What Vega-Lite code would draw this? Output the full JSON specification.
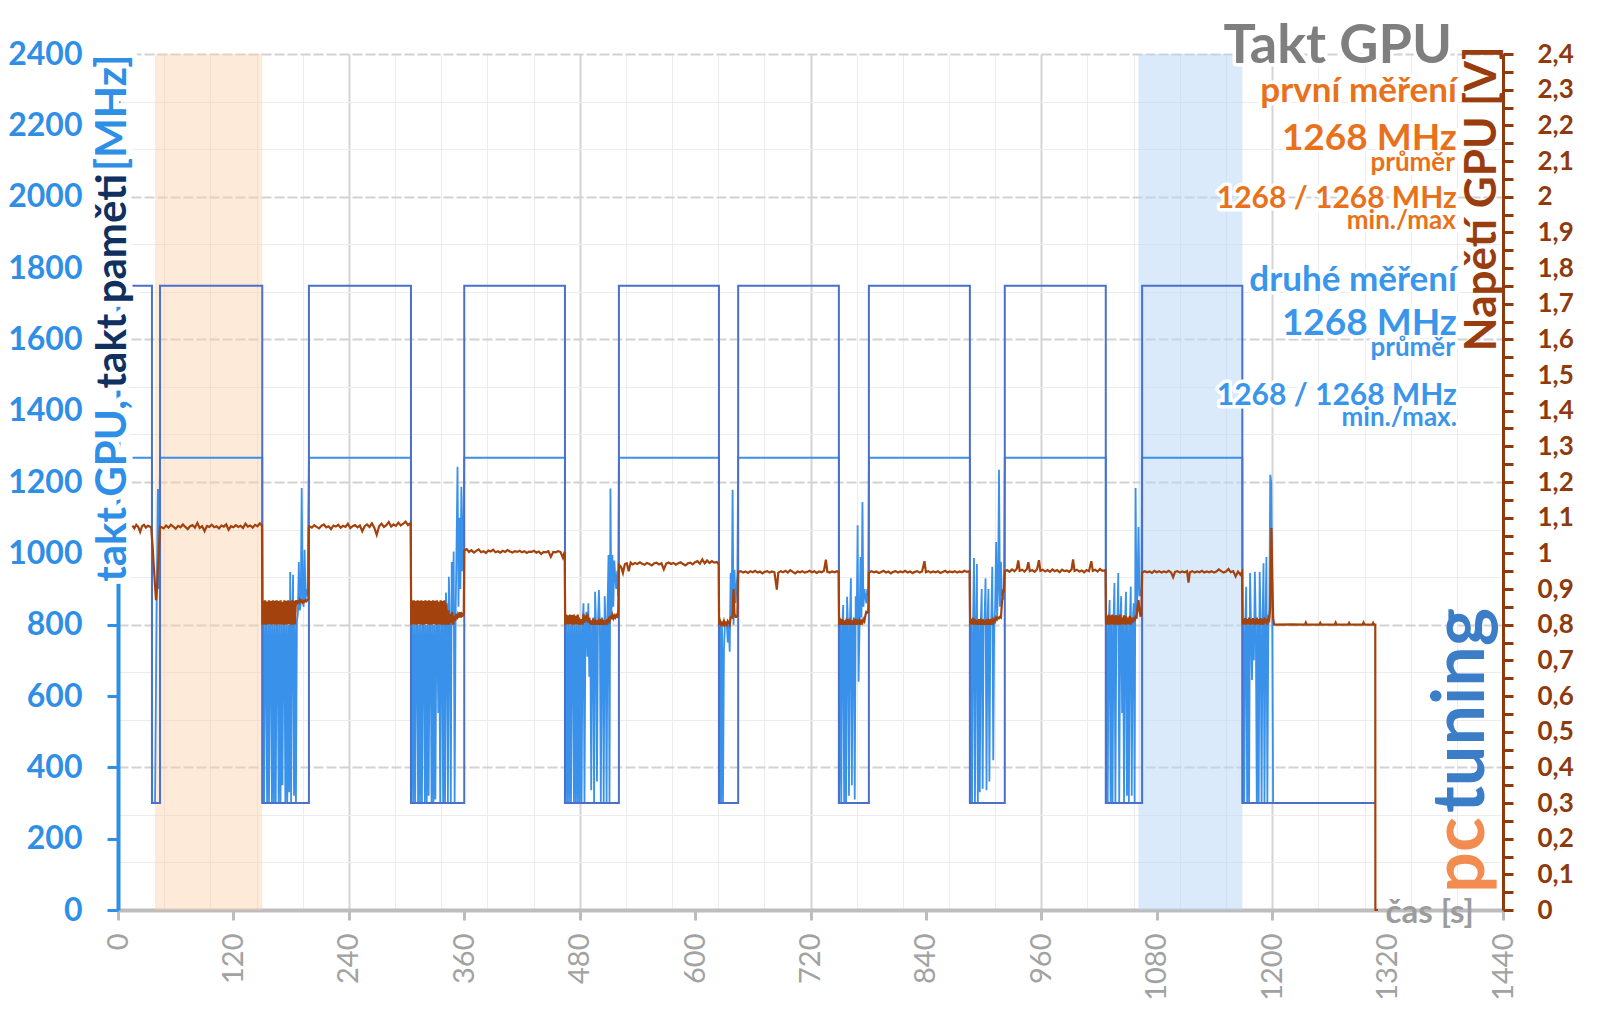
{
"$schema":"https://vega.github.io/schema/vega-lite/v6.json",
"width":1385,"height":856,
"autosize":"none",
"padding":{"left":118,"top":54,"right":97,"bottom":99},
"background":"white",
"config":{"view":{"stroke":null},"text":{"font":"Lato"}},
"datasets":{
"mem":[{"t":15,"v":1750},{"t":35.3,"v":1750},{"t":35.3,"v":300},{"t":43.7,"v":300},{"t":43.7,"v":1750},{"t":150,"v":1750},{"t":150,"v":300},{"t":198.5,"v":300},{"t":198.5,"v":1750},{"t":304.6,"v":1750},{"t":304.6,"v":300},{"t":360,"v":300},{"t":360,"v":1750},{"t":464.7,"v":1750},{"t":464.7,"v":300},{"t":520.8,"v":300},{"t":520.8,"v":1750},{"t":624.8,"v":1750},{"t":624.8,"v":300},{"t":644.8,"v":300},{"t":644.8,"v":1750},{"t":749.5,"v":1750},{"t":749.5,"v":300},{"t":780.7,"v":300},{"t":780.7,"v":1750},{"t":885.7,"v":1750},{"t":885.7,"v":300},{"t":922,"v":300},{"t":922,"v":1750},{"t":1027,"v":1750},{"t":1027,"v":300},{"t":1064.8,"v":300},{"t":1064.8,"v":1750},{"t":1169,"v":1750},{"t":1169,"v":300},{"t":1307,"v":300}],
"gpu":[{"t":15,"v":1268},{"t":35.3,"v":1268},{"t":35.6,"v":300},{"t":38.5,"v":300},{"t":40,"v":800},{"t":41.5,"v":1180},{"t":42.5,"v":900},{"t":43.7,"v":1268},{"t":150,"v":1268},
{"t":150.3,"v":300},{"t":151,"v":800},{"t":152,"v":300},{"t":153,"v":800},{"t":154,"v":800},{"t":155,"v":300},{"t":156,"v":800},{"t":157,"v":300},{"t":158,"v":800},{"t":159,"v":800},{"t":160,"v":300},{"t":161,"v":800},{"t":162,"v":300},{"t":163,"v":800},{"t":164,"v":300},{"t":165,"v":800},{"t":166,"v":800},{"t":167,"v":300},{"t":168,"v":800},{"t":169,"v":300},{"t":170,"v":800},{"t":171,"v":350},{"t":172,"v":800},{"t":173,"v":800},{"t":174,"v":300},{"t":175,"v":800},{"t":176,"v":300},{"t":177,"v":800},{"t":178,"v":330},{"t":179,"v":948},{"t":180,"v":300},{"t":181,"v":800},{"t":182,"v":940},{"t":183,"v":320},{"t":184,"v":800},{"t":185,"v":300},{"t":186,"v":810},{"t":187,"v":830},{"t":188,"v":976},{"t":189,"v":840},{"t":190,"v":860},{"t":191,"v":1183},{"t":192,"v":880},{"t":193,"v":850},{"t":194,"v":1010},{"t":195,"v":870},{"t":196,"v":900},{"t":197,"v":880},{"t":198.5,"v":1268},{"t":304.6,"v":1268},
{"t":304.9,"v":300},{"t":306,"v":800},{"t":307,"v":300},{"t":308,"v":800},{"t":309,"v":300},{"t":310,"v":800},{"t":311,"v":800},{"t":312,"v":300},{"t":313,"v":800},{"t":314,"v":300},{"t":315,"v":800},{"t":316,"v":300},{"t":317,"v":800},{"t":318,"v":800},{"t":319,"v":300},{"t":320,"v":800},{"t":321,"v":300},{"t":322,"v":800},{"t":323,"v":320},{"t":324,"v":800},{"t":325,"v":800},{"t":326,"v":300},{"t":327,"v":800},{"t":328,"v":300},{"t":329,"v":800},{"t":330,"v":310},{"t":331,"v":800},{"t":332,"v":800},{"t":333,"v":552},{"t":334,"v":800},{"t":335,"v":300},{"t":336,"v":800},{"t":337,"v":800},{"t":338,"v":300},{"t":339,"v":820},{"t":340,"v":300},{"t":341,"v":890},{"t":342,"v":800},{"t":343,"v":300},{"t":344,"v":934},{"t":345,"v":800},{"t":346,"v":300},{"t":347,"v":976},{"t":348,"v":800},{"t":349,"v":1005},{"t":350,"v":300},{"t":351,"v":820},{"t":352,"v":1020},{"t":353,"v":1243},{"t":354,"v":850},{"t":355,"v":1100},{"t":356,"v":900},{"t":357,"v":1187},{"t":358,"v":950},{"t":359,"v":1050},{"t":360,"v":1268},{"t":464.7,"v":1268},
{"t":465,"v":300},{"t":466,"v":800},{"t":467,"v":300},{"t":468,"v":800},{"t":469,"v":300},{"t":470,"v":800},{"t":471,"v":300},{"t":472,"v":800},{"t":473,"v":800},{"t":474,"v":300},{"t":475,"v":800},{"t":476,"v":300},{"t":477,"v":800},{"t":478,"v":300},{"t":479,"v":800},{"t":480,"v":300},{"t":481,"v":800},{"t":482,"v":300},{"t":483,"v":800},{"t":484,"v":860},{"t":485,"v":300},{"t":486,"v":800},{"t":487,"v":836},{"t":488,"v":710},{"t":489,"v":860},{"t":490,"v":654},{"t":491,"v":800},{"t":492,"v":336},{"t":493,"v":800},{"t":494,"v":820},{"t":495,"v":300},{"t":496,"v":892},{"t":497,"v":800},{"t":498,"v":360},{"t":499,"v":800},{"t":500,"v":897},{"t":501,"v":800},{"t":502,"v":300},{"t":503,"v":820},{"t":504,"v":800},{"t":505,"v":300},{"t":506,"v":880},{"t":507,"v":800},{"t":508,"v":300},{"t":509,"v":850},{"t":510,"v":995},{"t":511,"v":300},{"t":512,"v":1182},{"t":513,"v":820},{"t":514,"v":995},{"t":515,"v":850},{"t":516,"v":980},{"t":517,"v":934},{"t":518,"v":900},{"t":519,"v":950},{"t":520,"v":880},{"t":520.8,"v":1268},{"t":624.8,"v":1268},
{"t":625.1,"v":300},{"t":626,"v":800},{"t":627,"v":300},{"t":628,"v":800},{"t":629,"v":300},{"t":630,"v":729},{"t":631,"v":800},{"t":632,"v":800},{"t":633,"v":800},{"t":634,"v":750},{"t":635,"v":800},{"t":636,"v":724},{"t":637,"v":945},{"t":638,"v":820},{"t":639,"v":1178},{"t":640,"v":800},{"t":641,"v":953},{"t":642,"v":860},{"t":643,"v":900},{"t":644,"v":945},{"t":644.8,"v":1268},{"t":749.5,"v":1268},
{"t":749.8,"v":300},{"t":751,"v":800},{"t":752,"v":300},{"t":753,"v":800},{"t":754,"v":855},{"t":755,"v":300},{"t":756,"v":800},{"t":757,"v":300},{"t":758,"v":878},{"t":759,"v":800},{"t":760,"v":320},{"t":761,"v":800},{"t":762,"v":930},{"t":763,"v":350},{"t":764,"v":800},{"t":765,"v":820},{"t":766,"v":310},{"t":767,"v":880},{"t":768,"v":800},{"t":769,"v":1079},{"t":770,"v":640},{"t":771,"v":800},{"t":772,"v":990},{"t":773,"v":820},{"t":774,"v":1144},{"t":775,"v":850},{"t":776,"v":900},{"t":777,"v":880},{"t":778,"v":860},{"t":779,"v":900},{"t":780,"v":880},{"t":780.7,"v":1268},{"t":885.7,"v":1268},
{"t":886,"v":300},{"t":887,"v":800},{"t":888,"v":300},{"t":889,"v":800},{"t":890,"v":987},{"t":891,"v":300},{"t":892,"v":800},{"t":893,"v":970},{"t":894,"v":300},{"t":895,"v":800},{"t":896,"v":330},{"t":897,"v":800},{"t":898,"v":900},{"t":899,"v":340},{"t":900,"v":800},{"t":901,"v":820},{"t":902,"v":930},{"t":903,"v":336},{"t":904,"v":800},{"t":905,"v":900},{"t":906,"v":360},{"t":907,"v":800},{"t":908,"v":820},{"t":909,"v":962},{"t":910,"v":420},{"t":911,"v":800},{"t":912,"v":850},{"t":913,"v":1032},{"t":914,"v":820},{"t":915,"v":900},{"t":916,"v":1234},{"t":917,"v":850},{"t":918,"v":976},{"t":919,"v":880},{"t":920,"v":900},{"t":921,"v":870},{"t":922,"v":1268},{"t":1027,"v":1268},
{"t":1027.3,"v":300},{"t":1028,"v":800},{"t":1029,"v":300},{"t":1030,"v":800},{"t":1031,"v":869},{"t":1032,"v":300},{"t":1033,"v":800},{"t":1034,"v":300},{"t":1035,"v":800},{"t":1036,"v":917},{"t":1037,"v":300},{"t":1038,"v":800},{"t":1039,"v":800},{"t":1040,"v":945},{"t":1041,"v":300},{"t":1042,"v":800},{"t":1043,"v":880},{"t":1044,"v":552},{"t":1045,"v":800},{"t":1046,"v":300},{"t":1047,"v":800},{"t":1048,"v":892},{"t":1049,"v":320},{"t":1050,"v":800},{"t":1051,"v":300},{"t":1052,"v":800},{"t":1053,"v":906},{"t":1054,"v":320},{"t":1055,"v":800},{"t":1056,"v":860},{"t":1057,"v":300},{"t":1058,"v":1183},{"t":1059,"v":820},{"t":1060,"v":900},{"t":1061,"v":1074},{"t":1062,"v":880},{"t":1063,"v":900},{"t":1064,"v":880},{"t":1064.8,"v":1268},{"t":1169,"v":1268},
{"t":1169.3,"v":300},{"t":1170,"v":800},{"t":1171,"v":300},{"t":1172,"v":800},{"t":1173,"v":906},{"t":1174,"v":300},{"t":1175,"v":800},{"t":1176,"v":300},{"t":1177,"v":945},{"t":1178,"v":800},{"t":1179,"v":645},{"t":1180,"v":800},{"t":1181,"v":700},{"t":1182,"v":948},{"t":1183,"v":800},{"t":1184,"v":300},{"t":1185,"v":800},{"t":1186,"v":300},{"t":1187,"v":948},{"t":1188,"v":800},{"t":1189,"v":300},{"t":1190,"v":800},{"t":1191,"v":972},{"t":1192,"v":300},{"t":1193,"v":800},{"t":1194,"v":990},{"t":1195,"v":300},{"t":1196,"v":800},{"t":1197,"v":820},{"t":1198,"v":1220},{"t":1199,"v":1200},{"t":1200,"v":900},{"t":1201,"v":300},{"t":1307,"v":300}],
"volt":[{"t":15,"v":1.078},{"t":17,"v":1.07},{"t":19,"v":1.08},{"t":21,"v":1.074},{"t":23,"v":1.06},{"t":25,"v":1.076},{"t":27,"v":1.08},{"t":29,"v":1.072},{"t":31,"v":1.077},{"t":33,"v":1.075},{"t":34.5,"v":1.072},{"t":36,"v":1.02},{"t":37.5,"v":0.95},{"t":39.5,"v":0.869},{"t":40.5,"v":0.9},{"t":41.5,"v":0.96},{"t":42.5,"v":1.0},{"t":43.7,"v":1.075},
{"t":45,"v":1.074},{"t":47.5,"v":1.07},{"t":50,"v":1.078},{"t":52.5,"v":1.072},{"t":55,"v":1.08},{"t":57.5,"v":1.075},{"t":60,"v":1.069},{"t":62.5,"v":1.077},{"t":65,"v":1.073},{"t":67.5,"v":1.081},{"t":70,"v":1.074},{"t":72.5,"v":1.068},{"t":75,"v":1.076},{"t":77.5,"v":1.079},{"t":80,"v":1.072},{"t":82.5,"v":1.085},{"t":85,"v":1.071},{"t":87.5,"v":1.076},{"t":90,"v":1.062},{"t":92.5,"v":1.077},{"t":95,"v":1.074},{"t":97.5,"v":1.08},{"t":100,"v":1.073},{"t":102.5,"v":1.076},{"t":105,"v":1.07},{"t":107.5,"v":1.078},{"t":110,"v":1.075},{"t":112.5,"v":1.081},{"t":115,"v":1.066},{"t":117.5,"v":1.076},{"t":120,"v":1.073},{"t":122.5,"v":1.079},{"t":125,"v":1.074},{"t":127.5,"v":1.077},{"t":130,"v":1.071},{"t":132.5,"v":1.083},{"t":135,"v":1.075},{"t":137.5,"v":1.078},{"t":140,"v":1.072},{"t":142.5,"v":1.08},{"t":145,"v":1.076},{"t":147.5,"v":1.084},{"t":149.7,"v":1.078},
{"t":150.2,"v":0.8},{"t":151,"v":0.868},{"t":152,"v":0.8},{"t":153,"v":0.868},{"t":154,"v":0.8},{"t":155,"v":0.865},{"t":156,"v":0.8},{"t":157,"v":0.868},{"t":158,"v":0.802},{"t":159,"v":0.866},{"t":160,"v":0.8},{"t":161,"v":0.868},{"t":162,"v":0.8},{"t":163,"v":0.867},{"t":164,"v":0.8},{"t":165,"v":0.868},{"t":166,"v":0.801},{"t":167,"v":0.866},{"t":168,"v":0.8},{"t":169,"v":0.868},{"t":170,"v":0.8},{"t":171,"v":0.864},{"t":172,"v":0.8},{"t":173,"v":0.868},{"t":174,"v":0.8},{"t":175,"v":0.867},{"t":176,"v":0.8},{"t":177,"v":0.868},{"t":178,"v":0.802},{"t":179,"v":0.866},{"t":180,"v":0.8},{"t":181,"v":0.868},{"t":182,"v":0.8},{"t":183,"v":0.867},{"t":184,"v":0.8},{"t":185,"v":0.868},{"t":186,"v":0.86},{"t":187,"v":0.865},{"t":188,"v":0.862},{"t":189,"v":0.87},{"t":190,"v":0.864},{"t":191,"v":0.868},{"t":192,"v":0.862},{"t":193,"v":0.866},{"t":194,"v":0.864},{"t":195,"v":0.869},{"t":196,"v":0.866},{"t":197,"v":0.87},{"t":198,"v":0.872},{"t":198.5,"v":1.075},
{"t":199,"v":1.076},{"t":201.5,"v":1.072},{"t":204,"v":1.079},{"t":206.5,"v":1.074},{"t":209,"v":1.07},{"t":211.5,"v":1.077},{"t":214,"v":1.081},{"t":216.5,"v":1.073},{"t":219,"v":1.076},{"t":221.5,"v":1.068},{"t":224,"v":1.078},{"t":226.5,"v":1.075},{"t":229,"v":1.08},{"t":231.5,"v":1.072},{"t":234,"v":1.077},{"t":236.5,"v":1.074},{"t":239,"v":1.083},{"t":241.5,"v":1.071},{"t":244,"v":1.076},{"t":246.5,"v":1.079},{"t":249,"v":1.073},{"t":251.5,"v":1.078},{"t":254,"v":1.062},{"t":256.5,"v":1.076},{"t":259,"v":1.081},{"t":261.5,"v":1.074},{"t":264,"v":1.084},{"t":266.5,"v":1.072},{"t":269,"v":1.052},{"t":271.5,"v":1.076},{"t":274,"v":1.083},{"t":276.5,"v":1.074},{"t":279,"v":1.079},{"t":281.5,"v":1.088},{"t":284,"v":1.075},{"t":286.5,"v":1.081},{"t":289,"v":1.077},{"t":291.5,"v":1.086},{"t":294,"v":1.078},{"t":296.5,"v":1.083},{"t":299,"v":1.089},{"t":301.5,"v":1.079},{"t":304.2,"v":1.085},
{"t":304.9,"v":0.8},{"t":305.5,"v":0.868},{"t":306.5,"v":0.8},{"t":307.5,"v":0.868},{"t":308.5,"v":0.8},{"t":309.5,"v":0.866},{"t":310.5,"v":0.8},{"t":311.5,"v":0.868},{"t":312.5,"v":0.801},{"t":313.5,"v":0.867},{"t":314.5,"v":0.8},{"t":315.5,"v":0.868},{"t":316.5,"v":0.8},{"t":317.5,"v":0.866},{"t":318.5,"v":0.8},{"t":319.5,"v":0.868},{"t":320.5,"v":0.802},{"t":321.5,"v":0.867},{"t":322.5,"v":0.8},{"t":323.5,"v":0.868},{"t":324.5,"v":0.8},{"t":325.5,"v":0.866},{"t":326.5,"v":0.8},{"t":327.5,"v":0.868},{"t":328.5,"v":0.801},{"t":329.5,"v":0.867},{"t":330.5,"v":0.8},{"t":331.5,"v":0.868},{"t":332.5,"v":0.8},{"t":333.5,"v":0.865},{"t":334.5,"v":0.8},{"t":335.5,"v":0.868},{"t":336.5,"v":0.8},{"t":337.5,"v":0.866},{"t":338.5,"v":0.8},{"t":339.5,"v":0.868},{"t":340.5,"v":0.8},{"t":341.5,"v":0.86},{"t":342.5,"v":0.8},{"t":343.5,"v":0.84},{"t":344.5,"v":0.8},{"t":345.5,"v":0.83},{"t":346.5,"v":0.805},{"t":347.5,"v":0.835},{"t":348.5,"v":0.8},{"t":349.5,"v":0.825},{"t":350.5,"v":0.81},{"t":351.5,"v":0.83},{"t":352.5,"v":0.815},{"t":353.5,"v":0.828},{"t":354.5,"v":0.82},{"t":355.5,"v":0.835},{"t":356.5,"v":0.82},{"t":357.5,"v":0.83},{"t":358.5,"v":0.826},{"t":359.5,"v":0.83},
{"t":360,"v":1.008},{"t":362.5,"v":1.012},{"t":365,"v":1.004},{"t":367.5,"v":1.009},{"t":370,"v":1.002},{"t":372.5,"v":1.007},{"t":375,"v":1.011},{"t":377.5,"v":1.003},{"t":380,"v":1.006},{"t":382.5,"v":1.001},{"t":385,"v":1.008},{"t":387.5,"v":1.005},{"t":390,"v":1.01},{"t":392.5,"v":1.003},{"t":395,"v":1.006},{"t":397.5,"v":1.002},{"t":400,"v":1.007},{"t":402.5,"v":1.004},{"t":405,"v":1.009},{"t":407.5,"v":1.005},{"t":410,"v":1.002},{"t":412.5,"v":1.006},{"t":415,"v":1.004},{"t":417.5,"v":1.007},{"t":420,"v":1.003},{"t":422.5,"v":1.006},{"t":425,"v":1.001},{"t":427.5,"v":1.005},{"t":430,"v":1.004},{"t":432.5,"v":1.007},{"t":435,"v":1.002},{"t":437.5,"v":1.005},{"t":440,"v":0.998},{"t":442.5,"v":1.004},{"t":445,"v":1.003},{"t":447.5,"v":1.006},{"t":450,"v":0.99},{"t":452.5,"v":1.004},{"t":455,"v":1.003},{"t":457.5,"v":1.006},{"t":460,"v":1.004},{"t":462.5,"v":0.988},{"t":464.4,"v":1.004},
{"t":465,"v":0.8},{"t":466,"v":0.828},{"t":467,"v":0.8},{"t":468,"v":0.826},{"t":469,"v":0.8},{"t":470,"v":0.828},{"t":471,"v":0.801},{"t":472,"v":0.827},{"t":473,"v":0.8},{"t":474,"v":0.828},{"t":475,"v":0.8},{"t":476,"v":0.825},{"t":477,"v":0.8},{"t":478,"v":0.828},{"t":479,"v":0.8},{"t":480,"v":0.81},{"t":481,"v":0.8},{"t":482,"v":0.815},{"t":483,"v":0.8},{"t":484,"v":0.83},{"t":485,"v":0.805},{"t":486,"v":0.825},{"t":487,"v":0.81},{"t":488,"v":0.83},{"t":489,"v":0.805},{"t":490,"v":0.82},{"t":491,"v":0.8},{"t":492,"v":0.812},{"t":493,"v":0.8},{"t":494,"v":0.815},{"t":495,"v":0.8},{"t":496,"v":0.81},{"t":497,"v":0.8},{"t":498,"v":0.812},{"t":499,"v":0.8},{"t":500,"v":0.81},{"t":501,"v":0.8},{"t":502,"v":0.815},{"t":503,"v":0.8},{"t":504,"v":0.81},{"t":505,"v":0.8},{"t":506,"v":0.812},{"t":507,"v":0.8},{"t":508,"v":0.81},{"t":509,"v":0.805},{"t":510,"v":0.815},{"t":511,"v":0.81},{"t":512,"v":0.825},{"t":513,"v":0.815},{"t":514,"v":0.827},{"t":515,"v":0.818},{"t":516,"v":0.825},{"t":517,"v":0.82},{"t":518,"v":0.827},{"t":519,"v":0.822},{"t":520,"v":0.825},
{"t":520.8,"v":0.968},{"t":523,"v":0.962},{"t":525,"v":0.945},{"t":527,"v":0.97},{"t":529,"v":0.972},{"t":531,"v":0.95},{"t":533,"v":0.974},{"t":535,"v":0.969},{"t":537.5,"v":0.973},{"t":540,"v":0.97},{"t":542.5,"v":0.975},{"t":545,"v":0.971},{"t":547.5,"v":0.968},{"t":550,"v":0.973},{"t":552.5,"v":0.97},{"t":555,"v":0.966},{"t":557.5,"v":0.972},{"t":560,"v":0.974},{"t":562.5,"v":0.969},{"t":565,"v":0.972},{"t":567.5,"v":0.955},{"t":570,"v":0.971},{"t":572.5,"v":0.974},{"t":575,"v":0.97},{"t":577.5,"v":0.973},{"t":580,"v":0.968},{"t":582.5,"v":0.972},{"t":585,"v":0.975},{"t":587.5,"v":0.97},{"t":590,"v":0.966},{"t":592.5,"v":0.972},{"t":595,"v":0.974},{"t":597.5,"v":0.969},{"t":600,"v":0.975},{"t":602.5,"v":0.978},{"t":605,"v":0.971},{"t":607.5,"v":0.983},{"t":610,"v":0.972},{"t":612.5,"v":0.98},{"t":615,"v":0.973},{"t":617.5,"v":0.978},{"t":620,"v":0.974},{"t":622.5,"v":0.976},{"t":624.5,"v":0.97},
{"t":625,"v":0.8},{"t":626,"v":0.81},{"t":627,"v":0.8},{"t":628,"v":0.805},{"t":629,"v":0.8},{"t":630,"v":0.81},{"t":631,"v":0.8},{"t":632,"v":0.805},{"t":633,"v":0.8},{"t":634,"v":0.81},{"t":635,"v":0.805},{"t":636,"v":0.8},{"t":637,"v":0.82},{"t":638,"v":0.822},{"t":639,"v":0.82},{"t":640,"v":0.9},{"t":641,"v":0.83},{"t":642,"v":0.822},{"t":643,"v":0.822},{"t":644,"v":0.825},
{"t":644.8,"v":0.948},{"t":647.5,"v":0.95},{"t":650,"v":0.946},{"t":652.5,"v":0.949},{"t":655,"v":0.945},{"t":657.5,"v":0.95},{"t":660,"v":0.947},{"t":662.5,"v":0.951},{"t":665,"v":0.946},{"t":667.5,"v":0.949},{"t":670,"v":0.944},{"t":672.5,"v":0.948},{"t":675,"v":0.95},{"t":677.5,"v":0.946},{"t":680,"v":0.949},{"t":682.5,"v":0.947},{"t":685,"v":0.898},{"t":686.5,"v":0.946},{"t":689,"v":0.95},{"t":691.5,"v":0.947},{"t":694,"v":0.951},{"t":696.5,"v":0.946},{"t":699,"v":0.953},{"t":701.5,"v":0.948},{"t":704,"v":0.944},{"t":706.5,"v":0.949},{"t":709,"v":0.947},{"t":711.5,"v":0.95},{"t":714,"v":0.946},{"t":716.5,"v":0.948},{"t":719,"v":0.951},{"t":721.5,"v":0.947},{"t":724,"v":0.95},{"t":726.5,"v":0.945},{"t":729,"v":0.949},{"t":731.5,"v":0.947},{"t":734,"v":0.951},{"t":736,"v":0.982},{"t":737.5,"v":0.948},{"t":740,"v":0.946},{"t":742.5,"v":0.949},{"t":745,"v":0.947},{"t":747.5,"v":0.95},{"t":749.2,"v":0.948},
{"t":749.8,"v":0.8},{"t":751,"v":0.81},{"t":752,"v":0.8},{"t":753,"v":0.815},{"t":754,"v":0.8},{"t":755,"v":0.812},{"t":756,"v":0.8},{"t":757,"v":0.81},{"t":758,"v":0.8},{"t":759,"v":0.815},{"t":760,"v":0.8},{"t":761,"v":0.81},{"t":762,"v":0.8},{"t":763,"v":0.812},{"t":764,"v":0.8},{"t":765,"v":0.81},{"t":766,"v":0.8},{"t":767,"v":0.815},{"t":768,"v":0.8},{"t":769,"v":0.81},{"t":770,"v":0.805},{"t":771,"v":0.812},{"t":772,"v":0.8},{"t":773,"v":0.81},{"t":774,"v":0.805},{"t":775,"v":0.815},{"t":776,"v":0.81},{"t":777,"v":0.825},{"t":778,"v":0.836},{"t":779,"v":0.834},{"t":780,"v":0.836},
{"t":780.7,"v":0.946},{"t":783.5,"v":0.95},{"t":786,"v":0.947},{"t":788.5,"v":0.949},{"t":791,"v":0.945},{"t":793.5,"v":0.948},{"t":796,"v":0.951},{"t":798.5,"v":0.946},{"t":801,"v":0.949},{"t":803.5,"v":0.944},{"t":806,"v":0.948},{"t":808.5,"v":0.95},{"t":811,"v":0.946},{"t":813.5,"v":0.949},{"t":816,"v":0.947},{"t":818.5,"v":0.951},{"t":821,"v":0.946},{"t":823.5,"v":0.949},{"t":826,"v":0.945},{"t":828.5,"v":0.948},{"t":831,"v":0.95},{"t":833.5,"v":0.946},{"t":836,"v":0.949},{"t":838.5,"v":0.978},{"t":840,"v":0.947},{"t":842.5,"v":0.95},{"t":845,"v":0.946},{"t":847.5,"v":0.949},{"t":850,"v":0.947},{"t":852.5,"v":0.95},{"t":855,"v":0.945},{"t":857.5,"v":0.948},{"t":860,"v":0.951},{"t":862.5,"v":0.946},{"t":865,"v":0.949},{"t":867.5,"v":0.947},{"t":870,"v":0.95},{"t":872.5,"v":0.946},{"t":875,"v":0.949},{"t":877.5,"v":0.947},{"t":880,"v":0.951},{"t":882.5,"v":0.948},{"t":885.4,"v":0.95},
{"t":886,"v":0.8},{"t":887,"v":0.815},{"t":888,"v":0.8},{"t":889,"v":0.82},{"t":890,"v":0.8},{"t":891,"v":0.815},{"t":892,"v":0.8},{"t":893,"v":0.812},{"t":894,"v":0.8},{"t":895,"v":0.815},{"t":896,"v":0.8},{"t":897,"v":0.81},{"t":898,"v":0.8},{"t":899,"v":0.815},{"t":900,"v":0.8},{"t":901,"v":0.812},{"t":902,"v":0.8},{"t":903,"v":0.815},{"t":904,"v":0.8},{"t":905,"v":0.81},{"t":906,"v":0.8},{"t":907,"v":0.815},{"t":908,"v":0.8},{"t":909,"v":0.812},{"t":910,"v":0.805},{"t":911,"v":0.815},{"t":912,"v":0.81},{"t":913,"v":0.82},{"t":914,"v":0.815},{"t":915,"v":0.82},{"t":916,"v":0.818},{"t":917,"v":0.822},{"t":918,"v":0.82},{"t":919,"v":0.86},{"t":920,"v":0.897},{"t":921,"v":0.89},
{"t":922,"v":0.95},{"t":924.5,"v":0.953},{"t":927,"v":0.948},{"t":929.5,"v":0.955},{"t":932,"v":0.95},{"t":934.5,"v":0.957},{"t":936,"v":0.98},{"t":937.5,"v":0.951},{"t":940,"v":0.954},{"t":942.5,"v":0.949},{"t":945,"v":0.956},{"t":946.5,"v":0.975},{"t":948,"v":0.95},{"t":950.5,"v":0.953},{"t":953,"v":0.948},{"t":955.5,"v":0.955},{"t":957.5,"v":0.981},{"t":959,"v":0.951},{"t":961.5,"v":0.954},{"t":964,"v":0.949},{"t":966.5,"v":0.953},{"t":969,"v":0.948},{"t":971.5,"v":0.955},{"t":974,"v":0.95},{"t":976.5,"v":0.953},{"t":979,"v":0.947},{"t":981.5,"v":0.954},{"t":984,"v":0.95},{"t":986.5,"v":0.952},{"t":989,"v":0.948},{"t":991.5,"v":0.955},{"t":993,"v":0.983},{"t":994.5,"v":0.951},{"t":997,"v":0.954},{"t":999.5,"v":0.949},{"t":1002,"v":0.952},{"t":1004.5,"v":0.947},{"t":1007,"v":0.953},{"t":1009.5,"v":0.95},{"t":1012,"v":0.978},{"t":1013.5,"v":0.951},{"t":1016,"v":0.954},{"t":1018.5,"v":0.949},{"t":1021,"v":0.956},{"t":1023.5,"v":0.951},{"t":1026.7,"v":0.953},
{"t":1027.3,"v":0.8},{"t":1028,"v":0.825},{"t":1029,"v":0.8},{"t":1030,"v":0.828},{"t":1031,"v":0.8},{"t":1032,"v":0.826},{"t":1033,"v":0.8},{"t":1034,"v":0.828},{"t":1035,"v":0.8},{"t":1036,"v":0.825},{"t":1037,"v":0.8},{"t":1038,"v":0.827},{"t":1039,"v":0.8},{"t":1040,"v":0.825},{"t":1041,"v":0.8},{"t":1042,"v":0.828},{"t":1043,"v":0.8},{"t":1044,"v":0.82},{"t":1045,"v":0.8},{"t":1046,"v":0.826},{"t":1047,"v":0.8},{"t":1048,"v":0.825},{"t":1049,"v":0.8},{"t":1050,"v":0.82},{"t":1051,"v":0.8},{"t":1052,"v":0.825},{"t":1053,"v":0.8},{"t":1054,"v":0.82},{"t":1055,"v":0.805},{"t":1056,"v":0.82},{"t":1057,"v":0.81},{"t":1058,"v":0.822},{"t":1059,"v":0.82},{"t":1060,"v":0.85},{"t":1061,"v":0.869},{"t":1062,"v":0.84},{"t":1063,"v":0.825},{"t":1064,"v":0.826},
{"t":1064.8,"v":0.946},{"t":1067.5,"v":0.95},{"t":1070,"v":0.947},{"t":1072.5,"v":0.949},{"t":1075,"v":0.945},{"t":1077.5,"v":0.951},{"t":1080,"v":0.947},{"t":1082.5,"v":0.95},{"t":1085,"v":0.946},{"t":1087.5,"v":0.949},{"t":1090,"v":0.947},{"t":1092.5,"v":0.951},{"t":1095,"v":0.946},{"t":1097,"v":0.933},{"t":1099,"v":0.948},{"t":1101.5,"v":0.95},{"t":1104,"v":0.946},{"t":1106.5,"v":0.949},{"t":1109,"v":0.947},{"t":1111.5,"v":0.95},{"t":1113,"v":0.918},{"t":1114.5,"v":0.947},{"t":1117,"v":0.95},{"t":1119.5,"v":0.946},{"t":1122,"v":0.949},{"t":1124.5,"v":0.947},{"t":1127,"v":0.951},{"t":1129.5,"v":0.946},{"t":1132,"v":0.949},{"t":1134.5,"v":0.947},{"t":1137,"v":0.95},{"t":1139.5,"v":0.946},{"t":1142,"v":0.949},{"t":1144.5,"v":0.955},{"t":1147,"v":0.95},{"t":1149.5,"v":0.946},{"t":1152,"v":0.949},{"t":1154.5,"v":0.956},{"t":1157,"v":0.947},{"t":1159.5,"v":0.95},{"t":1162,"v":0.935},{"t":1164.5,"v":0.949},{"t":1167,"v":0.94},{"t":1168.7,"v":0.948},
{"t":1169.3,"v":0.8},{"t":1170,"v":0.815},{"t":1171,"v":0.8},{"t":1172,"v":0.818},{"t":1173,"v":0.8},{"t":1174,"v":0.815},{"t":1175,"v":0.8},{"t":1176,"v":0.82},{"t":1177,"v":0.8},{"t":1178,"v":0.815},{"t":1179,"v":0.8},{"t":1180,"v":0.818},{"t":1181,"v":0.8},{"t":1182,"v":0.815},{"t":1183,"v":0.8},{"t":1184,"v":0.82},{"t":1185,"v":0.8},{"t":1186,"v":0.815},{"t":1187,"v":0.8},{"t":1188,"v":0.818},{"t":1189,"v":0.8},{"t":1190,"v":0.815},{"t":1191,"v":0.8},{"t":1192,"v":0.82},{"t":1193,"v":0.805},{"t":1194,"v":0.815},{"t":1195,"v":0.8},{"t":1196,"v":0.82},{"t":1197,"v":0.815},{"t":1198,"v":0.85},{"t":1199.2,"v":1.071},{"t":1200,"v":0.95},{"t":1201,"v":0.82},{"t":1202,"v":0.8},{"t":1220,"v":0.801},{"t":1234,"v":0.8},{"t":1235,"v":0.806},{"t":1236,"v":0.8},{"t":1249,"v":0.8},{"t":1250,"v":0.805},{"t":1251,"v":0.8},{"t":1265,"v":0.8},{"t":1266,"v":0.806},{"t":1267,"v":0.8},{"t":1279,"v":0.8},{"t":1280,"v":0.805},{"t":1281,"v":0.8},{"t":1294,"v":0.8},{"t":1295,"v":0.806},{"t":1296,"v":0.8},{"t":1304,"v":0.8},{"t":1305,"v":0.805},{"t":1306,"v":0.8},{"t":1307.2,"v":0.8},{"t":1307.3,"v":0},{"t":1310,"v":0}],
"ann":[{"label":"Takt GPU","grp":"title","kind":"title","t":1387,"v":2375},{"label":"první měření","grp":"first","kind":"head","t":1392,"v":2265},{"label":"1268 MHz","grp":"first","kind":"big","t":1392,"v":2131},{"label":"průměr","grp":"first","kind":"small","t":1390,"v":2072},{"label":"1268 / 1268 MHz","grp":"first","kind":"mid","t":1392,"v":1968},{"label":"min./max","grp":"first","kind":"small","t":1391,"v":1910},{"label":"druhé měření","grp":"second","kind":"head","t":1392,"v":1735},{"label":"1268 MHz","grp":"second","kind":"big","t":1392,"v":1612},{"label":"průměr","grp":"second","kind":"small","t":1390,"v":1552},{"label":"1268 / 1268 MHz","grp":"second","kind":"mid","t":1392,"v":1416},{"label":"min./max.","grp":"second","kind":"small","t":1392,"v":1358}],
"rot":[{"label":"takt GPU,","grp":"axisBlue","t":-5,"v":920},{"label":"takt paměti","grp":"axisNavy","t":-5,"v":1462},{"label":"[MHz]","grp":"axisBlue","t":-5,"v":2072}],
"logo":[{"label":"pc","grp":"logoOrange","t":1397,"v":48},{"label":"tuning","grp":"logoBlue","t":1397,"v":272}]
},
"layer":[
{"layer":[
 {"data":{"values":[{"t0":38.5,"t1":150}]},
  "mark":{"type":"rect","color":"#fbd0a8","opacity":0.45},
  "encoding":{
   "x":{"field":"t0","type":"quantitative","scale":{"domain":[0,1440],"nice":false,"zero":false},
     "axis":{"orient":"top","values":[0,12,24,36,48,60,72,84,96,108,120,132,144,156,168,180,192,204,216,228,240,252,264,276,288,300,312,324,336,348,360,372,384,396,408,420,432,444,456,468,480,492,504,516,528,540,552,564,576,588,600,612,624,636,648,660,672,684,696,708,720,732,744,756,768,780,792,804,816,828,840,852,864,876,888,900,912,924,936,948,960,972,984,996,1008,1020,1032,1044,1056,1068,1080,1092,1104,1116,1128,1140,1152,1164,1176,1188,1200,1212,1224,1236,1248,1260,1272,1284,1296,1308,1320,1332,1344,1356,1368,1380,1392,1404,1416,1428,1440],
      "labels":false,"ticks":false,"domain":false,"title":null,"grid":true,
      "gridColor":{"condition":{"test":"abs(datum.value/120 - round(datum.value/120)) < 0.01","value":"#d4d4d4"},"value":"#ececec"},
      "gridWidth":{"condition":{"test":"abs(datum.value/120 - round(datum.value/120)) < 0.01","value":2},"value":1}}},
   "x2":{"field":"t1"},
   "y":{"datum":0,"type":"quantitative","scale":{"domain":[0,72],"nice":false},
     "axis":{"orient":"left","values":[0,1,2,3,4,5,6,7,8,9,10,11,12,13,14,15,16,17,18,19,20,21,22,23,24,25,26,27,28,29,30,31,32,33,34,35,36,37,38,39,40,41,42,43,44,45,46,47,48,49,50,51,52,53,54,55,56,57,58,59,60,61,62,63,64,65,66,67,68,69,70,71,72],
      "labels":false,"ticks":false,"domain":false,"title":null,"grid":true,
      "gridColor":{"condition":{"test":"datum.value % 6 === 0","value":"#d2d2d2"},"value":"#ececec"},
      "gridWidth":{"condition":{"test":"datum.value % 6 === 0","value":2},"value":1},
      "gridDash":{"condition":{"test":"datum.value % 6 === 0","value":[10,3]},"value":[]}}},
   "y2":{"datum":72}}},
 {"data":{"values":[{"t0":1061,"t1":1169}]},
  "mark":{"type":"rect","color":"#b5d5f6","opacity":0.5},
  "encoding":{
   "x":{"field":"t0","type":"quantitative","scale":{"domain":[0,1440],"nice":false,"zero":false}},
   "x2":{"field":"t1"},
   "y":{"datum":0,"type":"quantitative","scale":{"domain":[0,72],"nice":false}},
   "y2":{"datum":72}}}
]},
{"layer":[
 {"data":{"name":"gpu"},
  "mark":{"type":"line","color":"#3a91ea","strokeWidth":1.8},
  "encoding":{
   "x":{"field":"t","type":"quantitative","scale":{"domain":[0,1440],"nice":false,"zero":false},
     "axis":{"orient":"bottom","values":[0,120,240,360,480,600,720,840,960,1080,1200,1320,1440],"format":"d",
      "labelAngle":270,"labelFont":"Lato","labelFontSize":29,"labelColor":"#a2a2a2","labelPadding":13,"labelOverlap":false,"labelFlush":false,
      "tickSize":10,"tickWidth":3,"tickColor":"#bcbcbc","grid":false,
      "domainColor":"#bdbdbd","domainWidth":4,
      "title":"čas [s]","titleFont":"Lato","titleFontSize":33,"titleFontWeight":"bold","titleColor":"#9c9c9c",
      "titleX":1267,"titleY":12,"titleAlign":"left","titleBaseline":"alphabetic","titleAngle":0}},
   "y":{"field":"v","type":"quantitative","scale":{"domain":[0,2400],"nice":false},
     "axis":{"orient":"left","title":null,"values":[0,50,100,150,200,250,300,350,400,450,500,550,600,650,700,750,800,850,900,950,1000,1050,1100,1150,1200,1250,1300,1350,1400,1450,1500,1550,1600,1650,1700,1750,1800,1850,1900,1950,2000,2050,2100,2150,2200,2250,2300,2350,2400],
      "format":"d","labelExpr":"datum.value % 200 === 0 ? datum.label : ''",
      "labelFont":"Lato","labelFontSize":32,"labelFontWeight":"bold","labelColor":"#2f8ee6","labelPadding":25,"labelOverlap":false,"labelFlush":false,
      "tickSize":11,"tickWidth":3,"tickColor":"#2f8ee6","domainColor":"#2f8ee6","domainWidth":4,"grid":false,
      "encode":{"ticks":{"update":{"x":{"signal":"datum.value % 200 === 0 ? 12 : 0"}}}}}},
   "order":{"value":null}}},
 {"data":{"name":"mem"},
  "mark":{"type":"line","color":"#4a70c9","strokeWidth":2},
  "encoding":{
   "x":{"field":"t","type":"quantitative","scale":{"domain":[0,1440],"nice":false,"zero":false}},
   "y":{"field":"v","type":"quantitative","scale":{"domain":[0,2400],"nice":false}},
   "order":{"value":null}}},
 {"data":{"name":"ann"},
  "mark":{"type":"text","align":"right","baseline":"alphabetic","font":"Lato","fontWeight":"bold","fill":"white","stroke":"white","strokeWidth":7,"strokeJoin":"round"},
  "encoding":{
   "x":{"field":"t","type":"quantitative","scale":{"domain":[0,1440],"nice":false,"zero":false}},
   "y":{"field":"v","type":"quantitative","scale":{"domain":[0,2400],"nice":false}},
   "text":{"field":"label"},
   "size":{"condition":[{"test":"datum.kind === 'title'","value":54},{"test":"datum.kind === 'head'","value":35},{"test":"datum.kind === 'big'","value":37},{"test":"datum.kind === 'small'","value":26},{"test":"datum.kind === 'mid'","value":30}],"value":30}}},
 {"data":{"name":"ann"},
  "mark":{"type":"text","align":"right","baseline":"alphabetic","font":"Lato","fontWeight":"bold"},
  "encoding":{
   "x":{"field":"t","type":"quantitative","scale":{"domain":[0,1440],"nice":false,"zero":false}},
   "y":{"field":"v","type":"quantitative","scale":{"domain":[0,2400],"nice":false}},
   "text":{"field":"label"},
   "color":{"field":"grp","type":"nominal","scale":{"domain":["title","first","second","axisBlue","axisNavy","logoOrange","logoBlue"],"range":["#7f7f7f","#e8711c","#3a96ea","#2f8ee6","#10305f","#f28c50","#3c7dc7"]},"legend":null},
   "size":{"condition":[{"test":"datum.kind === 'title'","value":54},{"test":"datum.kind === 'head'","value":35},{"test":"datum.kind === 'big'","value":37},{"test":"datum.kind === 'small'","value":26},{"test":"datum.kind === 'mid'","value":30}],"value":30}}},
 {"data":{"name":"rot"},
  "mark":{"type":"text","angle":270,"align":"left","baseline":"middle","font":"Lato","fontWeight":"bold","fontSize":42,"fill":"white","stroke":"white","strokeWidth":12,"strokeJoin":"round"},
  "encoding":{
   "x":{"field":"t","type":"quantitative","scale":{"domain":[0,1440],"nice":false,"zero":false}},
   "y":{"field":"v","type":"quantitative","scale":{"domain":[0,2400],"nice":false}},
   "text":{"field":"label"}}},
 {"data":{"name":"rot"},
  "mark":{"type":"text","angle":270,"align":"left","baseline":"middle","font":"Lato","fontWeight":"bold","fontSize":42},
  "encoding":{
   "x":{"field":"t","type":"quantitative","scale":{"domain":[0,1440],"nice":false,"zero":false}},
   "y":{"field":"v","type":"quantitative","scale":{"domain":[0,2400],"nice":false}},
   "text":{"field":"label"},
   "color":{"field":"grp","type":"nominal","scale":{"domain":["title","first","second","axisBlue","axisNavy","logoOrange","logoBlue"],"range":["#7f7f7f","#e8711c","#3a96ea","#2f8ee6","#10305f","#f28c50","#3c7dc7"]},"legend":null}}},
 {"data":{"name":"logo"},
  "mark":{"type":"text","angle":270,"align":"left","baseline":"middle","font":"Lato","fontWeight":"bold","fontSize":72},
  "encoding":{
   "x":{"field":"t","type":"quantitative","scale":{"domain":[0,1440],"nice":false,"zero":false}},
   "y":{"field":"v","type":"quantitative","scale":{"domain":[0,2400],"nice":false}},
   "text":{"field":"label"},
   "color":{"field":"grp","type":"nominal","scale":{"domain":["title","first","second","axisBlue","axisNavy","logoOrange","logoBlue"],"range":["#7f7f7f","#e8711c","#3a96ea","#2f8ee6","#10305f","#f28c50","#3c7dc7"]},"legend":null}}}
]},
{"layer":[
 {"data":{"name":"volt"},
  "mark":{"type":"line","color":"#a4420e","strokeWidth":2.2},
  "encoding":{
   "x":{"field":"t","type":"quantitative","scale":{"domain":[0,1440],"nice":false,"zero":false},"axis":null},
   "y":{"field":"v","type":"quantitative","scale":{"domain":[0,2.4],"nice":false},
     "axis":{"orient":"right","values":[0,0.05,0.1,0.15,0.2,0.25,0.3,0.35,0.4,0.45,0.5,0.55,0.6,0.65,0.7,0.75,0.8,0.85,0.9,0.95,1,1.05,1.1,1.15,1.2,1.25,1.3,1.35,1.4,1.45,1.5,1.55,1.6,1.65,1.7,1.75,1.8,1.85,1.9,1.95,2,2.05,2.1,2.15,2.2,2.25,2.3,2.35,2.4],
      "labelExpr":"abs(datum.value*10 - round(datum.value*10)) < 0.001 ? replace(format(datum.value, '.1~f'), '.', ',') : ''",
      "labelFont":"Lato","labelFontSize":26,"labelFontWeight":"bold","labelColor":"#8e3a0d","labelPadding":24,"labelOverlap":false,"labelFlush":false,
      "tickSize":10,"tickWidth":3,"tickColor":"#8e3a0d","domainColor":"#8e3a0d","domainWidth":3,"grid":false,
      "encode":{"ticks":{"update":{"x":{"signal":"abs(datum.value*10 - round(datum.value*10)) < 0.001 ? -10 : 0"}}}},
      "title":"Napětí GPU [V]","titleFont":"Lato","titleFontSize":44,"titleFontWeight":"bold","titleColor":"#9a3d0e",
      "titleAngle":270,"titleAlign":"right","titleBaseline":"middle","titleX":-21,"titleY":-8}},
   "order":{"value":null}}}
]}
],
"resolve":{"scale":{"x":"independent","y":"independent"}}
}
